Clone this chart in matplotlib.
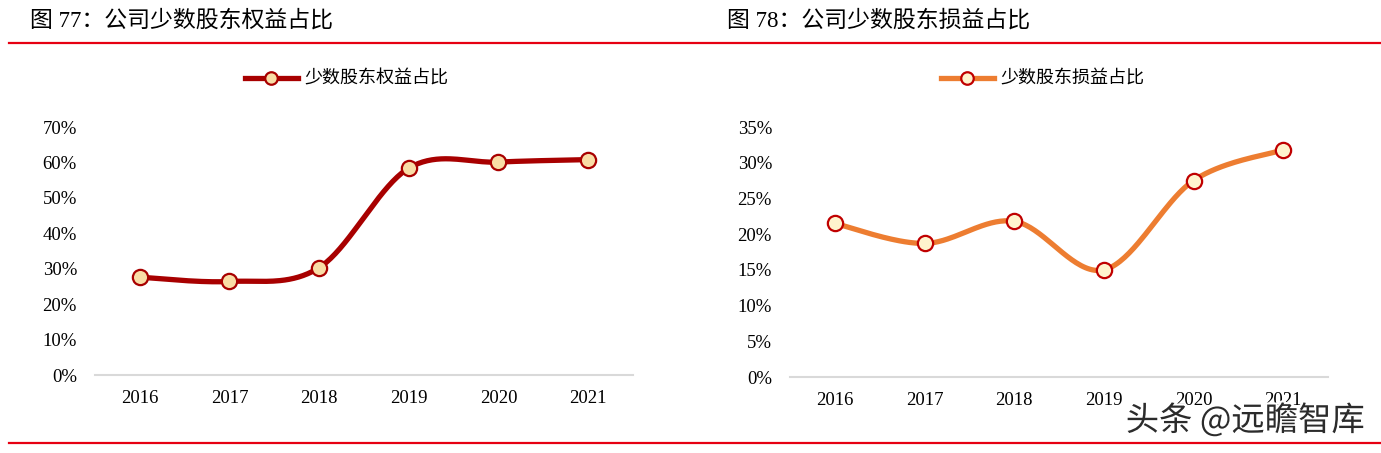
import numpy as np
import matplotlib
matplotlib.use("Agg")
import matplotlib.pyplot as plt
import matplotlib.patheffects as pe
from matplotlib.ticker import PercentFormatter

# data
years = ["2016", "2017", "2018", "2019", "2020", "2021"]
equity_share = [27.6, 26.4, 30.3, 58.4, 60.1, 60.8]   # 少数股东权益占比 (%)
profit_share = [21.5, 18.7, 21.8, 15.0, 27.5, 31.8]   # 少数股东损益占比 (%)

CJK = ["Liberation Serif", "Noto Sans CJK SC"]
SERIF = "Liberation Serif"


def smooth(xs, ys, n=40):
    # Catmull-Rom style smoothing like Excel "smoothed line"
    x = np.asarray(xs, float)
    y = np.asarray(ys, float)
    px = np.concatenate([[x[0]], x, [x[-1]]])
    py = np.concatenate([[y[0]], y, [y[-1]]])
    out_x, out_y = [], []
    t = np.linspace(0, 1, n)
    for i in range(1, len(px) - 2):
        p0 = np.array([px[i], py[i]])
        p3 = np.array([px[i + 1], py[i + 1]])
        c1 = p0 + (np.array([px[i + 1], py[i + 1]]) - np.array([px[i - 1], py[i - 1]])) / 6
        c2 = p3 - (np.array([px[i + 2], py[i + 2]]) - np.array([px[i], py[i]])) / 6
        b = ((1 - t) ** 3)[:, None] * p0 + (3 * (1 - t) ** 2 * t)[:, None] * c1 \
            + (3 * (1 - t) * t ** 2)[:, None] * c2 + (t ** 3)[:, None] * p3
        out_x.extend(b[:, 0])
        out_y.extend(b[:, 1])
    return out_x, out_y


def draw_panel(ax, values, ymax, ystep, line_color, face, edge, label, leg_x):
    x = np.arange(len(years))
    sx, sy = smooth(x, values)
    ax.plot(sx, sy, color=line_color, lw=3.8, solid_capstyle="round", zorder=2)
    ax.plot(x, values, ls="none", marker="o", ms=11, mfc=face, mec=edge, mew=1.6, zorder=3)
    ax.set_xlim(-0.5, len(years) - 0.5)
    ax.set_ylim(0, ymax)
    ax.set_yticks(np.arange(0, ymax + 0.01, ystep))
    ax.yaxis.set_major_formatter(PercentFormatter(decimals=0))
    ax.set_xticks(x)
    ax.set_xticklabels(years)
    for s in ["top", "right", "left"]:
        ax.spines[s].set_visible(False)
    ax.spines["bottom"].set_color("#D9D9D9")
    ax.spines["bottom"].set_linewidth(1.5)
    ax.tick_params(length=0, labelsize=13.5)
    ax.tick_params(axis="y", pad=13)
    ax.tick_params(axis="x", pad=11)
    for lab in ax.get_xticklabels() + ax.get_yticklabels():
        lab.set_fontfamily(SERIF)
    handle = plt.Line2D([], [], color=line_color, lw=3.8, marker="o", ms=9,
                        mfc=face, mec=edge, mew=1.6)
    fig.legend([handle], [label], loc="center", bbox_to_anchor=(leg_x, 1 - 79 / 453),
               frameon=False, handlelength=2.9, handletextpad=0.4,
               prop={"family": "Noto Sans CJK SC", "size": 13})


fig = plt.figure(figsize=(13.81, 4.53), dpi=100)
ax1 = fig.add_axes([95 / 1381, 78 / 453, 538 / 1381, 248 / 453])
ax2 = fig.add_axes([790 / 1381, 76 / 453, 538 / 1381, 250 / 453])

draw_panel(ax1, equity_share, 70, 10, "#A80000", "#F9DDA6", "#A80000",
           "少数股东权益占比", 347 / 1381)
draw_panel(ax2, profit_share, 35, 5, "#ED7D31", "#FFF4CE", "#C00000",
           "少数股东损益占比", 1043 / 1381)

# headers and red rules
fig.text(30 / 1381, 1 - 21 / 453, "图 77：公司少数股东权益占比", fontsize=16.5,
         family=CJK, va="center", ha="left")
fig.text(727 / 1381, 1 - 21 / 453, "图 78：公司少数股东损益占比", fontsize=16.5,
         family=CJK, va="center", ha="left")
fig.add_artist(plt.Line2D([9 / 1381, 1], [1 - 43 / 453] * 2, color="#E60012", lw=1.6))
fig.add_artist(plt.Line2D([9 / 1381, 1], [1 - 443 / 453] * 2, color="#E60012", lw=1.6))

# watermark
fig.text(1365 / 1381, 1 - 421 / 453, "头条 @远瞻智库", fontsize=24, color="#2b2b2b",
         family="Noto Sans CJK SC", ha="right", va="center",
         path_effects=[pe.withStroke(linewidth=3, foreground="white")])

fig.savefig("out.png", dpi=100)
